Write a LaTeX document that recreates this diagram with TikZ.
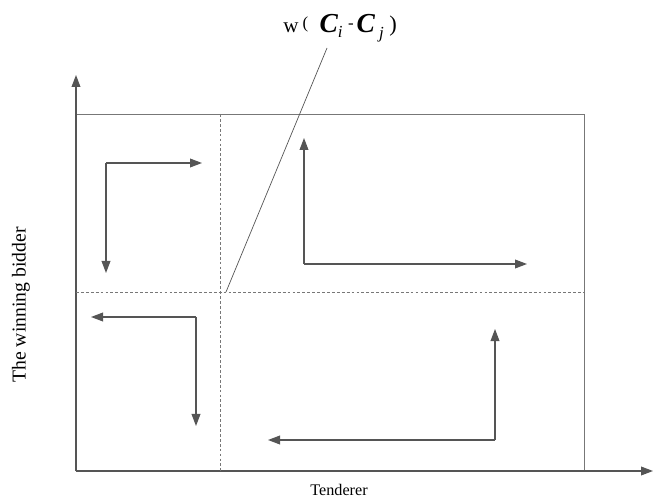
\documentclass[tikz,border=0pt]{standalone}
\usepackage{fontspec}
\setmainfont{Liberation Serif}
\usepackage{tikz}
\usetikzlibrary{positioning,
                calc,
                arrows.meta}
\definecolor{framegray}{HTML}{777777}
\definecolor{arrowgray}{HTML}{555555}

\newcommand{\fsz}[1]{\fontsize{#1}{#1}\selectfont}

\begin{document}
\begin{tikzpicture}[x=0.025cm,y=-0.025cm]

\tikzset{
axisline/.style={
draw=arrowgray,
line width=0.8pt,
-{Triangle[length=3mm,width=2.2mm]}
},
frameline/.style={
draw=framegray,
line width=0.6pt
},
splitline/.style={
draw=framegray,
line width=0.5pt,
dash pattern=on 2pt off 1.5pt
},
flowarrow/.style={
draw=arrowgray,
line width=0.8pt,
-{Triangle[length=3mm,width=2.2mm]}
},
axislabel/.style={
font=\fsz{11.5}
}
}

\useasboundingbox (0,0) rectangle (655,503);

%--------------------------------------------------
% AXES AND FRAME
%--------------------------------------------------

\coordinate (origin) at (76,471);
\coordinate (ytip) at (76,75);
\coordinate (xtip) at (653,471);
\coordinate (topright) at (584,114);

\draw[frameline] (origin) rectangle (topright);
\draw[axisline] (origin) -- (ytip);
\draw[axisline] (origin) -- (xtip);

\node[axislabel,font=\fsz{14},rotate=90] (ylabel) at (21,305) {The winning bidder};
\node[axislabel] (xlabel) at (339,490) {Tenderer};

%--------------------------------------------------
% DASHED SPLIT
%--------------------------------------------------

\coordinate (vtop) at (220,114);
\coordinate (vbot) at (220,471);
\coordinate (hleft) at (76,292);
\coordinate (hright) at (584,292);

\draw[splitline] (vtop) -- (vbot);
\draw[splitline] (hleft) -- (hright);

\node[anchor=base west,inner sep=0pt] (wlabel) at (283,33)
  {{\fsz{15}w}\hspace{3pt}\raisebox{3pt}{\fsz{12}(}\hspace{8pt}%
   {\fsz{19.5}\bfseries\itshape C}\raisebox{-3pt}{\fsz{12}\itshape i}\hspace{4pt}%
   \raisebox{3pt}{\fsz{12}-}\hspace{2pt}%
   {\fsz{19.5}\bfseries\itshape C}\hspace{3pt}\raisebox{-4pt}{\fsz{12}\itshape j}\hspace{4pt}%
   \raisebox{1pt}{\fsz{16})}};
\coordinate (cross) at (226,292);
\coordinate (wfoot) at (327,48);
\draw[arrowgray,line width=0.5pt] (cross) -- (wfoot);

%--------------------------------------------------
% FLOW ARROWS
%--------------------------------------------------

\coordinate (tlcorner) at (106,163);
\draw[flowarrow] (tlcorner) -- (202,163);
\draw[flowarrow] (tlcorner) -- (106,273);

\coordinate (trcorner) at (304,264);
\draw[flowarrow] (trcorner) -- (304,138);
\draw[flowarrow] (trcorner) -- (527,264);

\coordinate (blcorner) at (196,317);
\draw[flowarrow] (blcorner) -- (91,317);
\draw[flowarrow] (blcorner) -- (196,426);

\coordinate (brcorner) at (495,440);
\draw[flowarrow] (brcorner) -- (268,440);
\draw[flowarrow] (brcorner) -- (495,329);

\end{tikzpicture}
\end{document}
